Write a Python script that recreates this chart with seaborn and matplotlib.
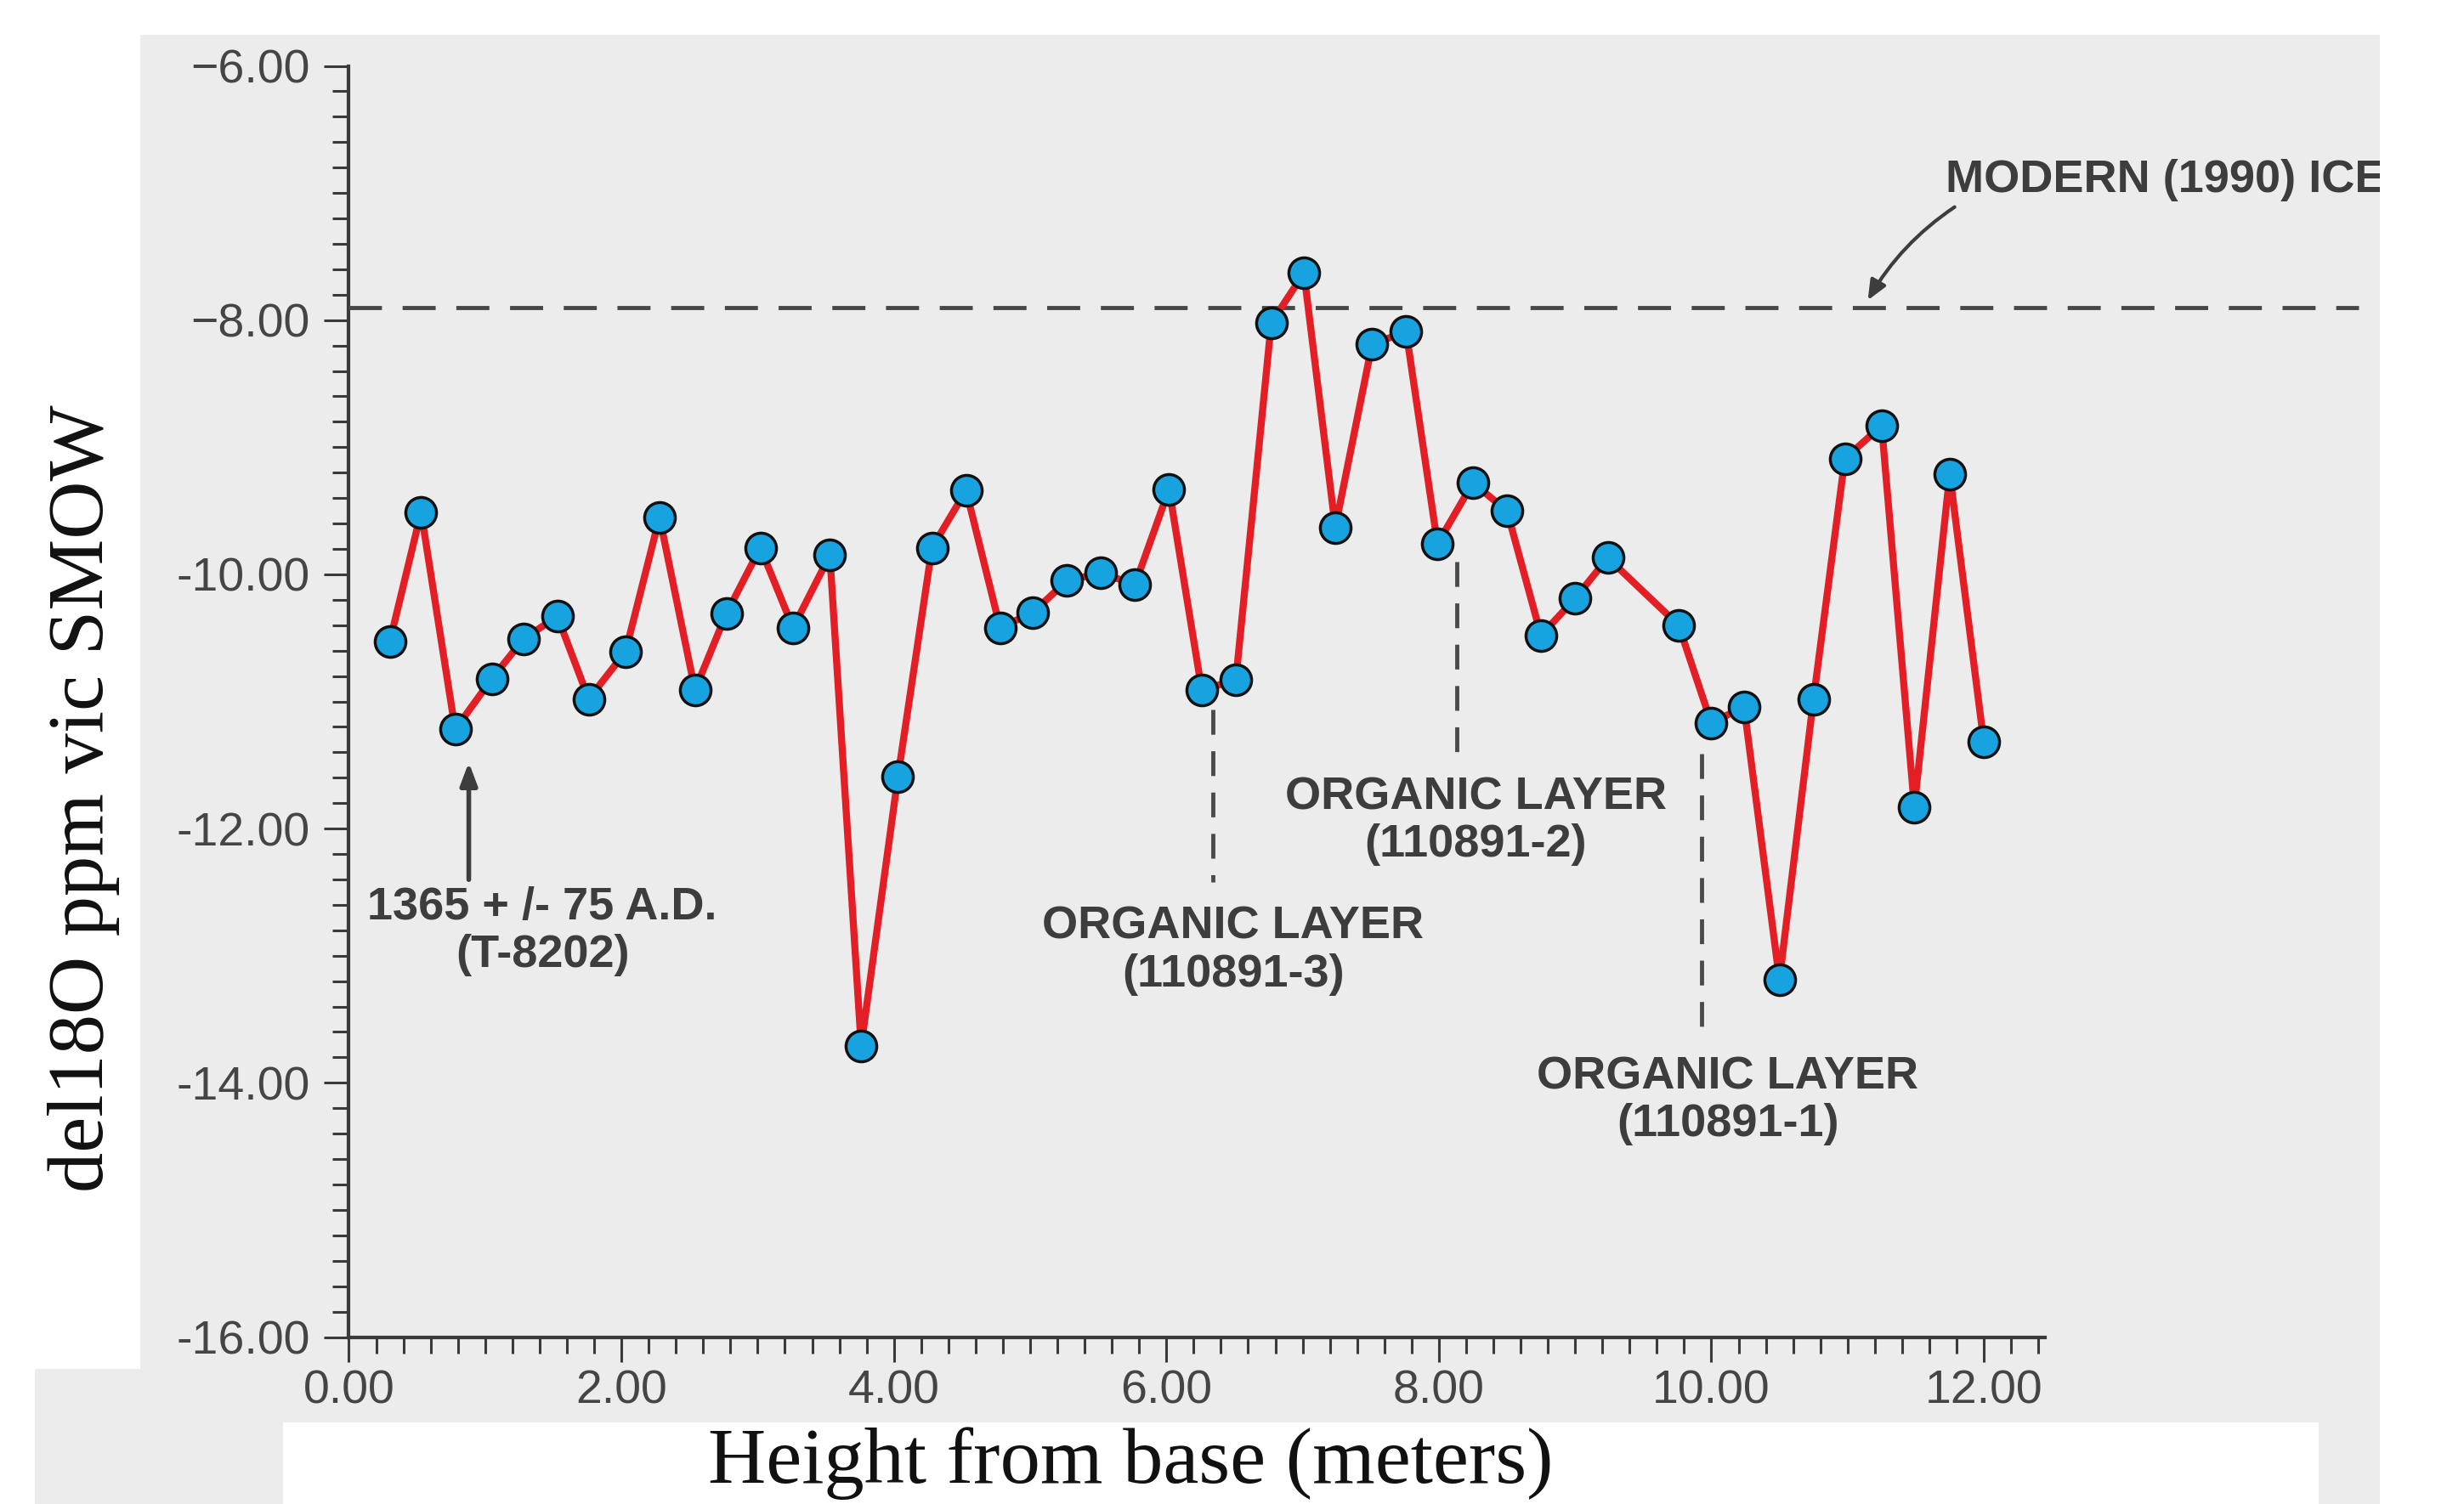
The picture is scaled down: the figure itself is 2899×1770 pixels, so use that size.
import numpy as np
import pandas as pd
import matplotlib
matplotlib.use("Agg")
import matplotlib.pyplot as plt
import matplotlib.patches as mpatches
from matplotlib.ticker import MultipleLocator, FuncFormatter
import seaborn as sns

###################################
# Data
###################################
height_m = [0.30, 0.53, 0.78, 1.05, 1.28, 1.53, 1.76, 2.03, 2.28, 2.54,
            2.77, 3.02, 3.26, 3.53, 3.76, 4.03, 4.28, 4.53, 4.78, 5.02,
            5.27, 5.52, 5.77, 6.02, 6.26, 6.51, 6.77, 7.01, 7.24, 7.51,
            7.76, 7.99, 8.25, 8.50, 8.75, 9.00, 9.24, 9.76, 10.00, 10.24,
            10.50, 10.75, 10.98, 11.25, 11.49, 11.75, 12.00]
del18o = [-10.53, -9.51, -11.22, -10.82, -10.51, -10.33, -10.98, -10.61, -9.55, -10.91,
          -10.31, -9.79, -10.42, -9.85, -13.71, -11.59, -9.79, -9.34, -10.42, -10.30,
          -10.05, -9.99, -10.08, -9.33, -10.91, -10.83, -8.02, -7.63, -9.63, -8.19,
          -8.09, -9.76, -9.28, -9.50, -10.48, -10.19, -9.87, -10.40, -11.17, -11.04,
          -13.19, -10.98, -9.09, -8.83, -11.83, -9.21, -11.32]

modern_ice = -7.90
modern_ice_end = 14.75

layer_names = ["ORGANIC LAYER\n(110891-3)", "ORGANIC LAYER\n(110891-2)", "ORGANIC LAYER\n(110891-1)"]
layer_x = [6.34, 8.13, 9.93]
layer_top = [-11.06, -9.90, -11.41]
layer_bottom = [-12.42, -11.49, -13.56]
layer_label_x = [6.49, 8.27, 10.12]
layer_label_y = [-12.96, -11.94, -14.14]

date_label = "1365 + /- 75 A.D.\n(T-8202)"

df = pd.DataFrame({"height": height_m, "d18o": del18o})

###################################
# Plot
###################################
sns.set_style("white")
plt.rcParams["font.family"] = ["Liberation Sans", "DejaVu Sans"]

fig = plt.figure(figsize=(28.99, 17.70), dpi=100)
fig.patch.set_facecolor("white")

# scanned page background
paper = "#ececec"
fig.add_artist(mpatches.Rectangle((0.057, 0.054), 0.909, 0.923, transform=fig.transFigure,
                                  facecolor=paper, edgecolor="none", zorder=-5))
fig.add_artist(mpatches.Rectangle((0.014, 0.0), 0.101, 0.09, transform=fig.transFigure,
                                  facecolor=paper, edgecolor="none", zorder=-5))
fig.add_artist(mpatches.Rectangle((0.941, 0.0), 0.025, 0.054, transform=fig.transFigure,
                                  facecolor=paper, edgecolor="none", zorder=-5))

ax = fig.add_axes([0.1416, 0.111, 0.6884, 0.8452])
ax.set_facecolor("none")

sns.lineplot(data=df, x="height", y="d18o", ax=ax, sort=False, estimator=None,
             color="#e31e24", linewidth=6, marker="o", markersize=26,
             markerfacecolor="#17a2e0", markeredgecolor="#111111",
             markeredgewidth=2.5, zorder=5)

ink = "#3d3d3d"

# modern ice reference line
ax.plot([0, modern_ice_end], [modern_ice, modern_ice], color="#474747", lw=3.5,
        dashes=(8, 5), clip_on=False, zorder=3)
ax.annotate("", xy=(11.14, -7.86), xytext=(11.80, -7.10),
            arrowprops=dict(arrowstyle="-|>,head_length=1.4,head_width=0.6", color=ink,
                            lw=3, connectionstyle="arc3,rad=0.12"),
            annotation_clip=False)
ax.text(11.72, -6.90, "MODERN (1990) ICE", fontsize=39, fontweight="bold",
        color=ink, ha="left", va="center", clip_on=False)

# organic layers
for xv, top, bot, name, lx, ly in zip(layer_x, layer_top, layer_bottom,
                                      layer_names, layer_label_x, layer_label_y):
    ax.plot([xv, xv], [top, bot], color="#4a4a4a", lw=3.5, dashes=(6, 4), zorder=3)
    ax.text(lx, ly, name, fontsize=39, fontweight="bold", color=ink,
            ha="center", va="center", multialignment="center", linespacing=1.15)

# dated sample
ax.annotate("", xy=(0.88, -11.46), xytext=(0.88, -12.42),
            arrowprops=dict(arrowstyle="-|>,head_length=1.6,head_width=0.6", color=ink, lw=4),
            annotation_clip=False)
ax.text(1.42, -12.81, date_label, fontsize=39, fontweight="bold", color=ink,
        ha="center", va="center", multialignment="center", linespacing=1.15)

# axes
ax.set_xlim(0, 12.45)
ax.set_ylim(-16, -6)
ax.xaxis.set_major_locator(MultipleLocator(2))
ax.xaxis.set_minor_locator(MultipleLocator(0.2))
ax.yaxis.set_major_locator(MultipleLocator(2))
ax.yaxis.set_minor_locator(MultipleLocator(0.2))


def fmt(v, pos):
    s = f"{v:.2f}"
    if v < 0 and abs(v) < 10:
        s = s.replace("-", "\u2212")
    return s


ax.xaxis.set_major_formatter(FuncFormatter(fmt))
ax.yaxis.set_major_formatter(FuncFormatter(fmt))

sns.despine(ax=ax)
for side in ["left", "bottom"]:
    ax.spines[side].set_color("#3a3a3a")
    ax.spines[side].set_linewidth(3)
ax.tick_params(which="both", bottom=True, left=True, top=False, right=False)
ax.tick_params(which="major", direction="out", length=21, width=2.2, color="#3a3a3a",
               labelsize=40, labelcolor="#454545")
ax.tick_params(which="minor", direction="out", length=14, width=2.2, color="#3a3a3a")
ax.tick_params(axis="y", which="major", pad=12)
ax.tick_params(axis="x", which="major", pad=6)

ax.set_xlabel("Height from base (meters)", family=["Liberation Serif", "DejaVu Serif"],
              fontsize=68, color="#111111")
ax.set_ylabel("del18O ppm vic SMOW", family=["Liberation Serif", "DejaVu Serif"],
              fontsize=68, color="#111111")
ax.xaxis.set_label_coords(0.461, -0.071)
ax.yaxis.set_label_coords(-0.135, 0.424)

# page edge cutting the label on the right
fig.add_artist(mpatches.Rectangle((0.966, 0.0), 0.034, 1.0, transform=fig.transFigure,
                                  facecolor="white", edgecolor="none", zorder=10))

fig.savefig("out.png", dpi=100)
